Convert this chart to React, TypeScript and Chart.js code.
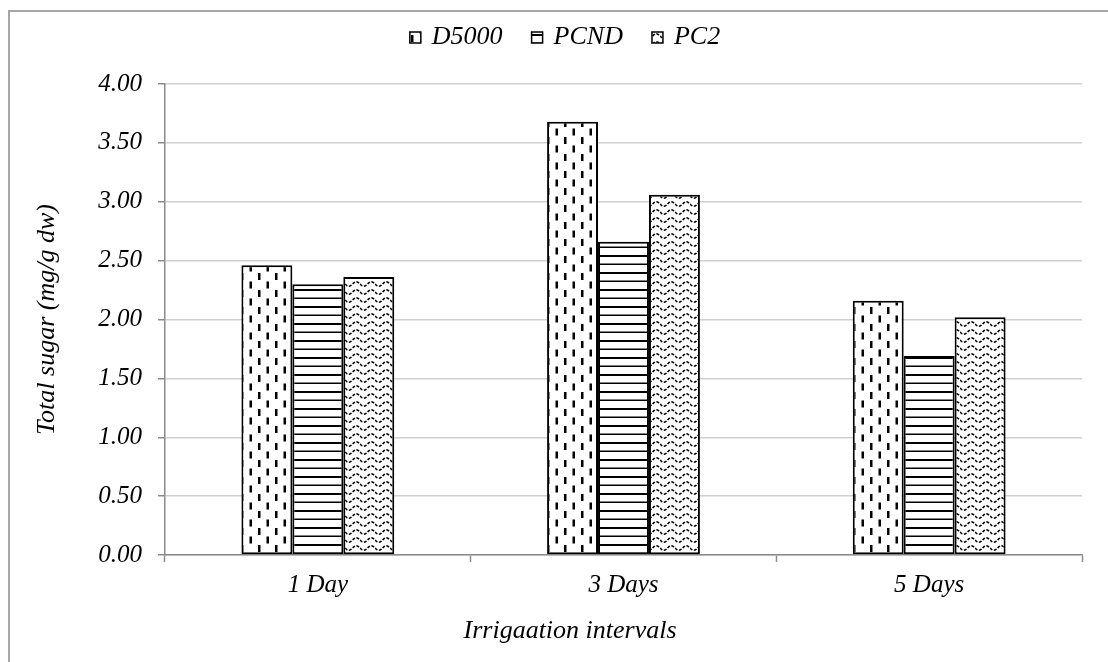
import React, { useEffect, useRef } from 'react';
import { Chart, registerables } from 'chart.js';

Chart.register(...registerables);

const categories = ['1 Day', '3 Days', '5 Days'];
const seriesNames = ['D5000', 'PCND', 'PC2'];
const d5000Values = [2.46, 3.68, 2.16];
const pcndValues = [2.30, 2.66, 1.69];
const pc2Values = [2.36, 3.06, 2.02];
const yTickValues = [0, 0.5, 1, 1.5, 2, 2.5, 3, 3.5, 4];
const yTitle = 'Total sugar (mg/g dw)';
const xTitle = 'Irrigaation intervals';

const FONT = '"Liberation Serif", "Times New Roman", serif';

function makePattern(kind: string): CanvasPattern | string {
  const c = document.createElement('canvas');
  const ctx = c.getContext('2d');
  if (!ctx) return '#fff';
  if (kind === 'dash') {
    c.width = 17; c.height = 17;
    ctx.fillStyle = '#fff'; ctx.fillRect(0, 0, 17, 17);
    ctx.fillStyle = '#000';
    ctx.fillRect(3, 1, 2.5, 7);
    ctx.fillRect(11.5, 9.5, 2.5, 7);
  } else if (kind === 'hline') {
    c.width = 16; c.height = 17;
    ctx.fillStyle = '#fff'; ctx.fillRect(0, 0, 16, 17);
    ctx.fillStyle = '#000';
    ctx.fillRect(0, 0, 16, 2);
    ctx.fillRect(0, 8.5, 16, 1.5);
  } else {
    c.width = 15; c.height = 8;
    ctx.fillStyle = '#fff'; ctx.fillRect(0, 0, 15, 8);
    ctx.strokeStyle = '#000';
    ctx.lineWidth = 1.6;
    ctx.setLineDash([3, 1.5]);
    ctx.beginPath();
    for (let i = 0; i <= 30; i++) {
      const x = (i / 30) * 15;
      const y = 4 + 2.2 * Math.sin((x / 15) * Math.PI * 2);
      if (i === 0) ctx.moveTo(x, y); else ctx.lineTo(x, y);
    }
    ctx.stroke();
  }
  const p = ctx.createPattern(c, 'repeat');
  return p || '#fff';
}

export default function App() {
  const ref = useRef<HTMLCanvasElement | null>(null);

  useEffect(() => {
    if (!ref.current) return;
    const patterns = [makePattern('dash'), makePattern('hline'), makePattern('wave')];
    const values = [d5000Values, pcndValues, pc2Values];

    const customText = {
      id: 'customText',
      afterDraw(chart: any) {
        const ctx = chart.ctx as CanvasRenderingContext2D;
        const area = chart.chartArea;
        ctx.save();
        ctx.fillStyle = '#000';
        // x title
        ctx.font = `italic 26px ${FONT}`;
        ctx.textAlign = 'center';
        ctx.textBaseline = 'middle';
        ctx.fillText(xTitle, area.left + area.width * 0.4417, 631);
        // y title
        ctx.save();
        ctx.translate(47, (area.top + area.bottom) / 2);
        ctx.rotate(-Math.PI / 2);
        ctx.fillText(yTitle, 0, 0);
        ctx.restore();
        // legend
        ctx.font = `italic 26px ${FONT}`;
        const box = 11, gapText = 11, gapItem = 29;
        const widths = seriesNames.map((n) => ctx.measureText(n).width);
        const total = widths.reduce((a, b) => a + b, 0) + seriesNames.length * (box + gapText) + gapItem * (seriesNames.length - 1);
        let x = 565 - total / 2;
        ctx.textAlign = 'left';
        ctx.textBaseline = 'alphabetic';
        seriesNames.forEach((n, i) => {
          ctx.fillStyle = patterns[i] as any;
          ctx.fillRect(x, 32, box, box);
          ctx.strokeStyle = '#000';
          ctx.lineWidth = 1.5;
          ctx.strokeRect(x, 32, box, box);
          ctx.fillStyle = '#000';
          ctx.fillText(n, x + box + gapText, 44);
          x += box + gapText + widths[i] + gapItem;
        });
        ctx.restore();
      },
    };

    const chart = new Chart(ref.current, {
      type: 'bar',
      data: {
        labels: categories,
        datasets: seriesNames.map((name, i) => ({
          label: name,
          data: values[i],
          backgroundColor: patterns[i] as any,
          borderColor: '#000',
          borderWidth: 2,
          borderSkipped: false,
          categoryPercentage: 0.5,
          barPercentage: 1.0,
        })),
      },
      options: {
        responsive: false,
        animation: false,
        devicePixelRatio: 1,
        layout: { padding: { top: 84, right: 26, bottom: 0, left: 20 } },
        plugins: {
          legend: { display: false },
          tooltip: { enabled: false },
        },
        scales: {
          x: {
            offset: true,
            afterFit: (s: any) => { s.height = 107; },
            grid: {
              offset: true,
              drawOnChartArea: false,
              drawTicks: true,
              tickLength: 7,
              tickColor: '#8c8c8c',
              tickWidth: 1.5,
            },
            border: { color: '#8c8c8c', width: 1.5 },
            ticks: {
              color: '#000',
              padding: 8,
              font: { family: FONT, size: 25, style: 'italic' },
            },
          },
          y: {
            min: 0,
            max: 4,
            afterFit: (s: any) => { s.width = 145; },
            afterBuildTicks: (s: any) => { s.ticks = yTickValues.map((v) => ({ value: v })); },
            grid: {
              color: '#d0d0d0',
              lineWidth: 1.5,
              drawTicks: true,
              tickLength: 7,
              tickColor: '#8c8c8c',
              tickWidth: 1.5,
            },
            border: { color: '#8c8c8c', width: 1.5 },
            ticks: {
              color: '#000',
              padding: 16,
              font: { family: FONT, size: 25, style: 'italic' },
              callback: (v: any) => Number(v).toFixed(2),
            },
          },
        },
      },
      plugins: [customText],
    });
    return () => chart.destroy();
  }, []);

  return (
    <div style={{ position: 'absolute', left: 0, top: 0, width: 1108, height: 662, overflow: 'hidden', background: '#fff' }}>
      <canvas ref={ref} width={1108} height={662} style={{ position: 'absolute', left: 0, top: 0, width: 1108, height: 662 }} />
      <div style={{ position: 'absolute', left: 8, top: 10, width: 1120, height: 680, borderLeft: '2px solid #a6a6a6', borderTop: '2px solid #a6a6a6', pointerEvents: 'none' }} />
    </div>
  );
}
